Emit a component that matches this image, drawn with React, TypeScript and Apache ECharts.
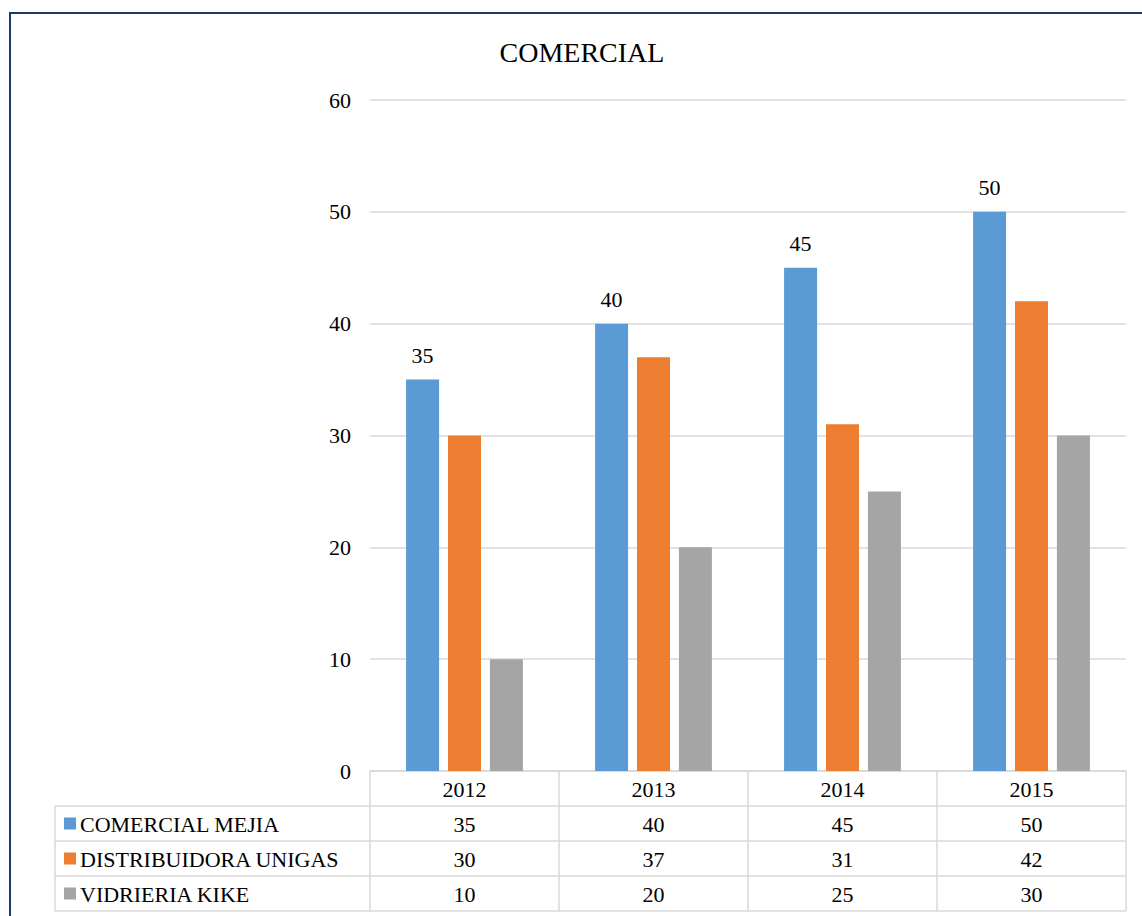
import React, { useEffect, useRef } from "react";
import * as echarts from "echarts";

const categories = ["2012", "2013", "2014", "2015"];
const seriesNames = ["COMERCIAL MEJIA", "DISTRIBUIDORA UNIGAS", "VIDRIERIA KIKE"];
const comercialMejia = [35, 40, 45, 50];
const distribuidoraUnigas = [30, 37, 31, 42];
const vidrieriaKike = [10, 20, 25, 30];
const colors = ["#5B9BD5", "#ED7D31", "#A5A5A5"];
const yTicks = { min: 0, max: 60, interval: 10 };
const chartTitle = "COMERCIAL";

const FONT = "Liberation Serif";
const FS = 22;

export default function App() {
  const ref = useRef<HTMLDivElement>(null);
  useEffect(() => {
    if (!ref.current) return;
    const chart = echarts.init(ref.current, undefined, { renderer: "svg" });
    const values = [comercialMejia, distribuidoraUnigas, vidrieriaKike];
    chart.setOption({
      animation: false,
      backgroundColor: "#ffffff",
      textStyle: { fontFamily: FONT },
      grid: { left: 370, right: 16, top: 100, bottom: 145, containLabel: false },
      xAxis: {
        type: "category",
        data: categories,
        axisLine: { show: true, lineStyle: { color: "#d9d9d9", width: 1.5 } },
        axisTick: { show: false },
        axisLabel: { show: false },
        splitLine: { show: false },
      },
      yAxis: {
        type: "value",
        min: yTicks.min,
        max: yTicks.max,
        interval: yTicks.interval,
        axisLine: { show: false },
        axisTick: { show: false },
        axisLabel: { color: "#000", fontSize: FS, fontFamily: FONT, margin: 19 },
        splitLine: { lineStyle: { color: "#d9d9d9", width: 1.5 } },
      },
      series: values.map((v, i) => ({
        name: seriesNames[i],
        type: "bar",
        data: v,
        barWidth: 33,
        barGap: "27%",
        itemStyle: { color: colors[i] },
        label:
          i === 0
            ? {
                show: true,
                position: "top",
                distance: 13,
                color: "#000",
                fontSize: FS,
                fontFamily: FONT,
              }
            : { show: false },
      })),
    });

    const centers = categories.map((_, i) => chart.convertToPixel({ xAxisIndex: 0 }, i) as number);
    const colW = centers.length > 1 ? centers[1] - centers[0] : 189;
    const axisY = chart.convertToPixel({ yAxisIndex: 0 }, 0) as number;
    const rowH = 35;
    const tableLeft = 55;
    const plotLeft = centers[0] - colW / 2;
    const plotRight = centers[centers.length - 1] + colW / 2;
    const lineStyle = { stroke: "#d9d9d9", lineWidth: 1.5 };
    const txt = (text: string, x: number, y: number, align: string, size = FS) => ({
      type: "text",
      x,
      y,
      style: {
        text,
        fontSize: size,
        fontFamily: FONT,
        fill: "#000",
        align,
        verticalAlign: "middle",
      },
    });
    const g: any[] = [];
    for (let r = 1; r <= 4; r++) {
      const y = axisY + r * rowH;
      g.push({ type: "line", shape: { x1: tableLeft, y1: y, x2: plotRight, y2: y }, style: lineStyle });
    }
    g.push({ type: "line", shape: { x1: tableLeft, y1: axisY + rowH, x2: tableLeft, y2: axisY + 4 * rowH }, style: lineStyle });
    for (let c = 0; c <= categories.length; c++) {
      const x = plotLeft + c * colW;
      g.push({ type: "line", shape: { x1: x, y1: axisY, x2: x, y2: axisY + 4 * rowH }, style: lineStyle });
    }
    categories.forEach((cat, i) => g.push(txt(cat, centers[i], axisY + rowH / 2 + 1, "center")));
    values.forEach((vals, r) => {
      const cy = axisY + (r + 1.5) * rowH;
      g.push({ type: "rect", shape: { x: 64, y: cy - 6, width: 12, height: 12 }, style: { fill: colors[r] } });
      g.push(txt(seriesNames[r], 80, cy + 1, "left"));
      vals.forEach((v, i) => g.push(txt(String(v), centers[i], cy + 1, "center")));
    });
    g.push(txt(chartTitle, 582, 52, "center", 28));
    g.push({
      type: "rect",
      shape: { x: 10, y: 13, width: 1300, height: 1000 },
      style: { fill: "none", stroke: "#1F3864", lineWidth: 2 },
    });
    chart.setOption({ graphic: g });

    return () => chart.dispose();
  }, []);
  return (
    <div
      ref={ref}
      style={{ position: "absolute", left: 0, top: 0, width: 1142, height: 916 }}
    />
  );
}
